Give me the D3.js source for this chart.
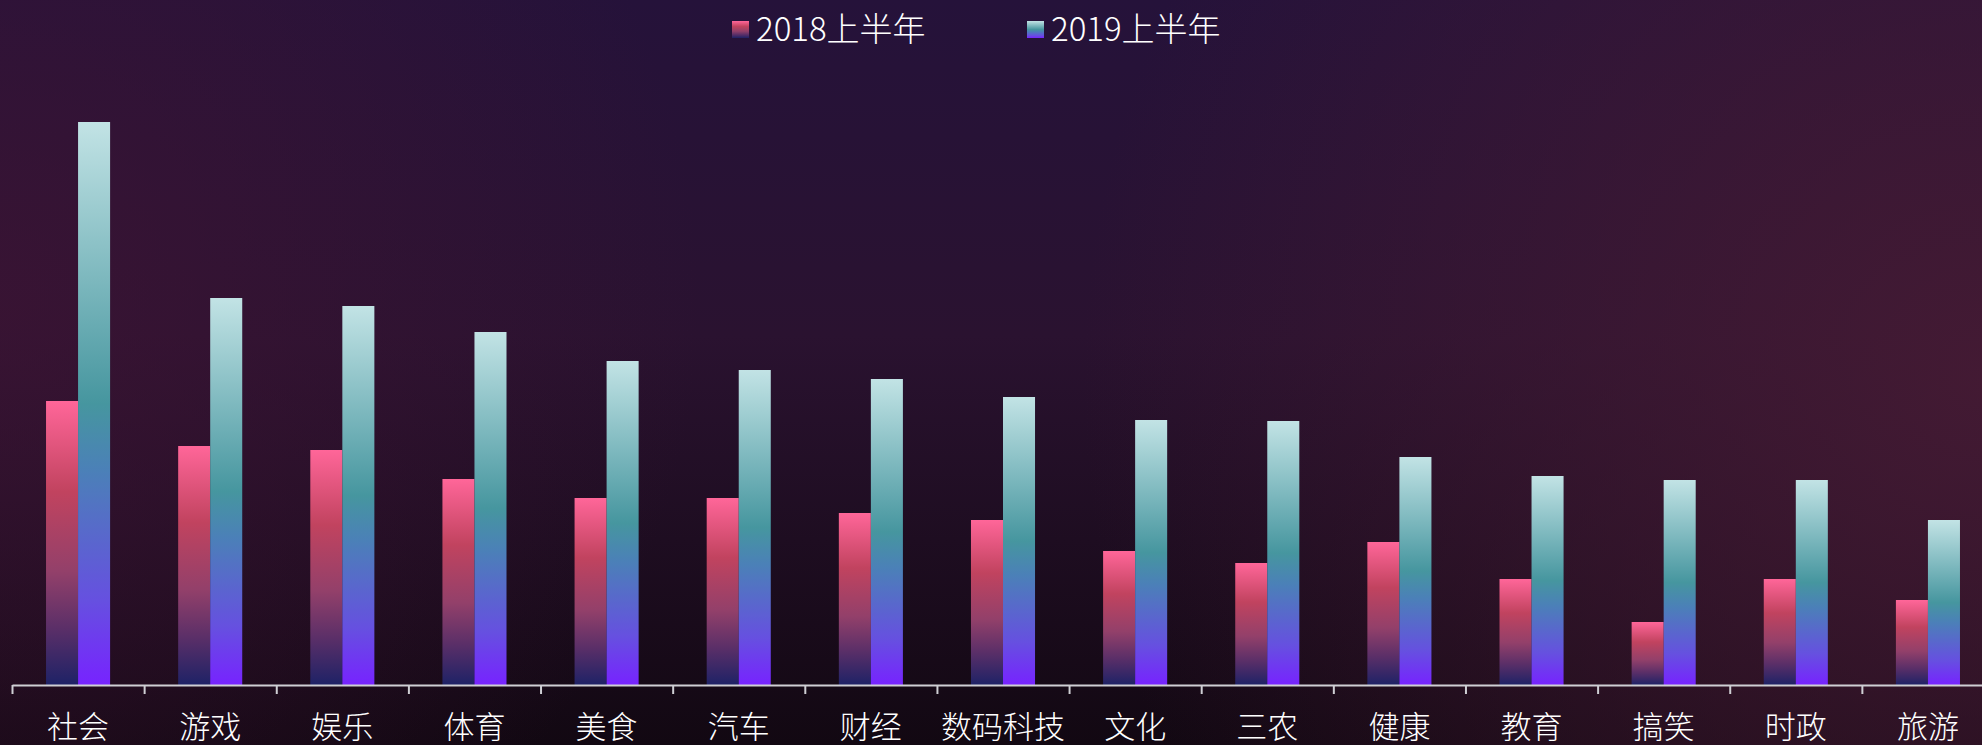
<!DOCTYPE html>
<html>
<head>
<meta charset="utf-8">
<script src="https://cdn.jsdelivr.net/npm/d3@7/dist/d3.min.js"></script>
<style>
	html, body { margin: 0; padding: 0; background: #1a0c1c; overflow: hidden; }
	svg { display: block; }
</style>
</head>
<body>
<script>

// categories and the two series
var categories = ["社会", "游戏", "娱乐", "体育", "美食", "汽车", "财经", "数码科技", "文化", "三农", "健康", "教育", "搞笑", "时政", "旅游"]
var seriesNames = ["2018上半年", "2019上半年"]
var values2018 = [28.4, 23.9, 23.5, 20.6, 18.7, 18.7, 17.2, 16.5, 13.4, 12.2, 14.3, 10.6, 6.3, 10.6, 8.5]
var values2019 = [56.3, 38.7, 37.9, 35.3, 32.4, 31.5, 30.6, 28.8, 26.5, 26.4, 22.8, 20.9, 20.5, 20.5, 16.5]
var yDomain = [0, 60]

var W = 1982, H = 745
var FONT = "'Noto Sans CJK SC', 'Noto Sans', sans-serif"

window.onload = function WindowLoad(event) {
	DrawChart()
}

function DrawChart(){

	var svg = d3.select("body").append("svg")
		.attr("width", W)
		.attr("height", H)

	var defs = svg.append("defs")

	//BACKGROUND GRADIENTS
	var bg = defs.append("linearGradient").attr("id", "bg").attr("x1", 0).attr("y1", 0).attr("x2", 0).attr("y2", 1)
	bg.append("stop").attr("offset", 0).attr("stop-color", "#25123a")
	bg.append("stop").attr("offset", 0.45).attr("stop-color", "#2a1230")
	bg.append("stop").attr("offset", 1).attr("stop-color", "#120812")

	var glowL = defs.append("radialGradient").attr("id", "glowL")
		.attr("gradientUnits", "userSpaceOnUse").attr("cx", 0).attr("cy", 300).attr("r", 700)
	glowL.append("stop").attr("offset", 0).attr("stop-color", "#3e1434").attr("stop-opacity", 0.7)
	glowL.append("stop").attr("offset", 1).attr("stop-color", "#3e1434").attr("stop-opacity", 0)

	var glowR = defs.append("radialGradient").attr("id", "glowR")
		.attr("gradientUnits", "userSpaceOnUse").attr("cx", W).attr("cy", 380).attr("r", 900)
	glowR.append("stop").attr("offset", 0).attr("stop-color", "#461b34").attr("stop-opacity", 0.9)
	glowR.append("stop").attr("offset", 1).attr("stop-color", "#461b34").attr("stop-opacity", 0)

	svg.append("rect").attr("width", W).attr("height", H).style("fill", "url(#bg)")
	svg.append("rect").attr("width", W).attr("height", H).style("fill", "url(#glowL)")
	svg.append("rect").attr("width", W).attr("height", H).style("fill", "url(#glowR)")

	//BAR GRADIENTS (one per series, stretched over each bar)
	var stops = [
		[[0, "#ff6699"], [0.32, "#c1435f"], [0.6, "#93406a"], [0.8, "#5b2f68"], [1, "#1e2266"]],
		[[0, "#c2e3e5"], [0.5, "#46969f"], [0.62, "#4b80b8"], [0.85, "#6650e0"], [1, "#7723ff"]]
	]
	stops.forEach(function(s, i){
		var g = defs.append("linearGradient").attr("id", "bar" + i)
			.attr("x1", 0).attr("y1", 0).attr("x2", 0).attr("y2", 1)
		g.selectAll("stop").data(s).enter().append("stop")
			.attr("offset", function(d){ return d[0] })
			.attr("stop-color", function(d){ return d[1] })
	})

	//SCALES
	var x = d3.scaleBand().domain(categories).range([12, 1994])
	var xs = d3.scaleBand().domain(seriesNames).range([0, x.bandwidth()]).paddingOuter(1.0625)
	var y = d3.scaleLinear().domain(yDomain).range([685, 85])

	var rows = categories.map(function(c, i){
		return { cat: c, vals: [values2018[i], values2019[i]] }
	})

	var groups = svg.selectAll("g.cat")
		.data(rows)
		.enter()
		.append("g")
		.attr("class", "cat")
		.attr("transform", function(d){ return "translate(" + x(d.cat) + ",0)" })

	groups.selectAll("rect")
		.data(function(d){
			return d.vals.map(function(v, i){ return { name: seriesNames[i], v: v, i: i } })
		})
		.enter()
		.append("rect")
		.attr("x", function(d){ return xs(d.name) })
		.attr("width", xs.bandwidth())
		.attr("y", function(d){ return y(d.v) })
		.attr("height", function(d){ return y(0) - y(d.v) })
		.style("fill", function(d){ return "url(#bar" + d.i + ")" })

	//X AXIS - labels centred, ticks on the band boundaries
	var axis = svg.append("g")
		.attr("transform", "translate(0," + y(0) + ")")
		.call(d3.axisBottom(x).tickSize(0).tickSizeOuter(0).tickPadding(0))

	axis.select(".domain").style("stroke", "#cfcfd4").style("stroke-width", 2)
	axis.selectAll(".tick text")
		.attr("y", 53)
		.attr("dy", null)
		.style("font-family", FONT)
		.style("font-weight", 300)
		.style("font-size", "31px")
		.style("fill", "#ffffff")

	var bounds = categories.map(function(c){ return x(c) })
	axis.selectAll("line.bound")
		.data(bounds)
		.enter()
		.append("line")
		.attr("class", "bound")
		.attr("x1", function(d){ return d + 0.5 })
		.attr("x2", function(d){ return d + 0.5 })
		.attr("y1", 0)
		.attr("y2", 9)
		.style("stroke", "#cfcfd4")
		.style("stroke-width", 2)

	//LEGEND
	var legendX = [732, 1027]
	var legend = svg.selectAll("g.legend")
		.data(seriesNames)
		.enter()
		.append("g")
		.attr("class", "legend")
		.attr("transform", function(d, i){ return "translate(" + legendX[i] + ",0)" })

	legend.append("rect")
		.attr("x", 0)
		.attr("y", 21)
		.attr("width", 17)
		.attr("height", 17)
		.style("fill", function(d, i){ return "url(#bar" + i + ")" })

	legend.append("text")
		.attr("x", 24)
		.attr("y", 41)
		.text(function(d){ return d })
		.style("font-family", FONT)
		.style("font-weight", 300)
		.style("font-size", "33px")
		.style("fill", "#ffffff")
}

</script>
</body>
</html>
